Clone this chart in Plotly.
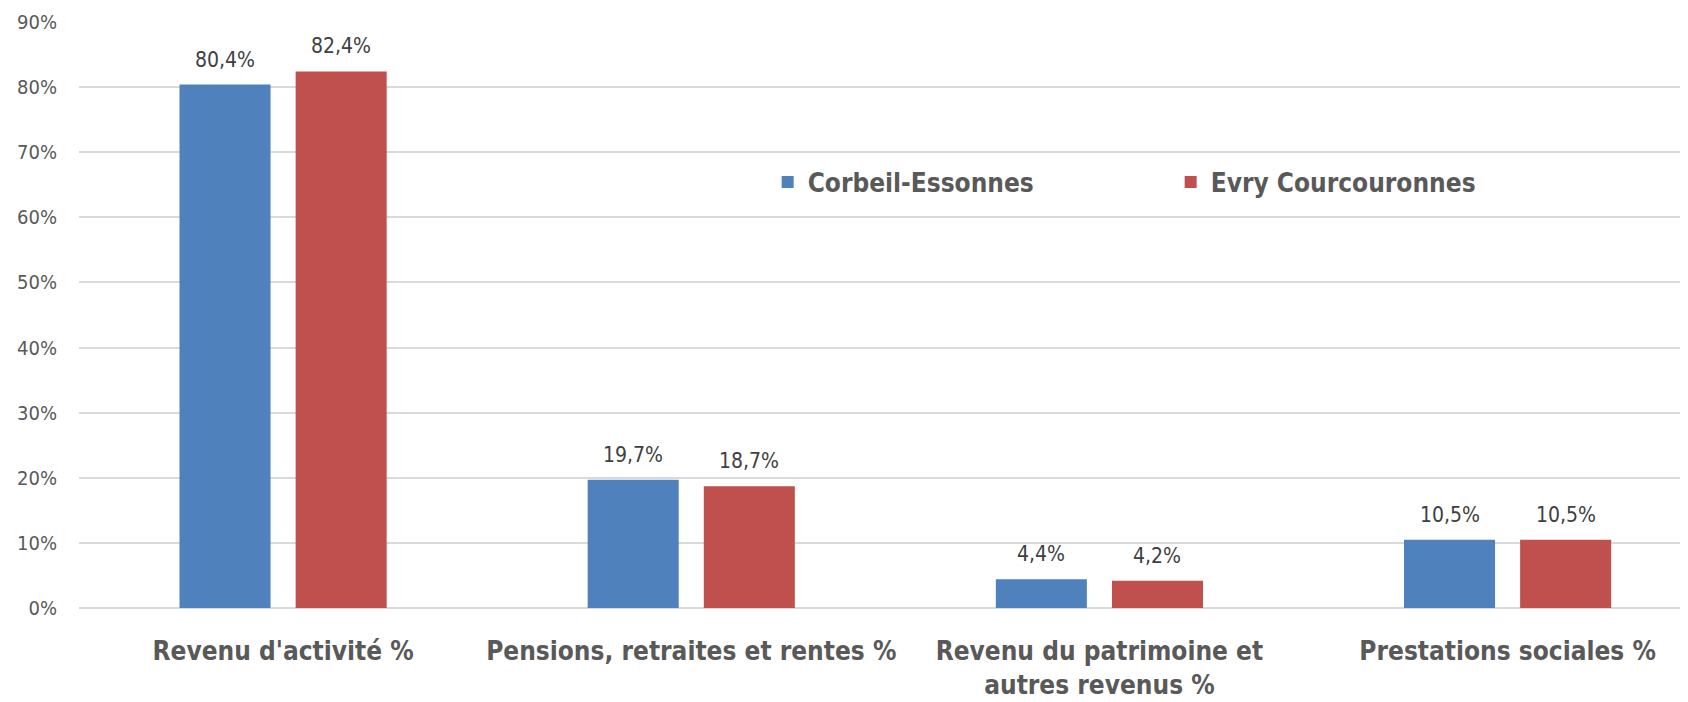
import plotly.graph_objects as go

categories = ["Revenu d'activité %", "Pensions, retraites et rentes %",
              "Revenu du patrimoine et<br>autres revenus %", "Prestations sociales %"]
corbeil = [80.4, 19.7, 4.4, 10.5]
evry = [82.4, 18.7, 4.2, 10.5]
series_names = ["Corbeil-Essonnes", "Evry Courcouronnes"]
colors = ["#4F81BD", "#C0504D"]
y_ticks = [0, 10, 20, 30, 40, 50, 60, 70, 80, 90]

FONT = "Liberation Sans Narrow, DejaVu Sans Condensed, sans-serif"

fig = go.Figure()
for name, vals, col in zip(series_names, [corbeil, evry], colors):
    fig.add_trace(go.Bar(x=categories, y=vals, name=name, marker=dict(color=col, line=dict(width=0))))

annotations = []
for vals, shift in [(corbeil, -58), (evry, 58)]:
    for c, v in zip(categories, vals):
        annotations.append(dict(x=c, y=v, xref="x", yref="y", text=f"{v:.1f}".replace(".", ",") + "%",
                                showarrow=False, xshift=shift, yshift=25, yanchor="middle",
                                font=dict(family=FONT, size=21, color="#404040")))

fig.update_layout(
    width=1688, height=702,
    margin=dict(l=71, r=8, t=14, b=102),
    paper_bgcolor="white", plot_bgcolor="white",
    barmode="group", bargap=0.431, bargroupgap=0.216,
    annotations=annotations,
    showlegend=True,
    legend=dict(orientation="h", x=0.428, y=0.727, xanchor="left", yanchor="middle",
                entrywidth=358, entrywidthmode="pixels",
                font=dict(family=FONT, size=26, color="#595959", weight="bold"),
                bgcolor="rgba(0,0,0,0)"),
    xaxis=dict(range=[-0.5, 3.442], showgrid=False, showline=False, ticks="",
               ticklabelstandoff=25, automargin=False,
               tickfont=dict(family=FONT, size=26, color="#595959", weight="bold")),
    yaxis=dict(range=[0, 90], tickvals=y_ticks, ticktext=[f"{t}%" for t in y_ticks],
               showgrid=True, gridcolor="#D9D9D9", gridwidth=1.5, zeroline=True,
               zerolinecolor="#D9D9D9", zerolinewidth=1.5, ticks="", automargin=False,
               ticklabelstandoff=21,
               tickfont=dict(family=FONT, size=20, color="#595959")),
)

fig.write_html("out.html")
